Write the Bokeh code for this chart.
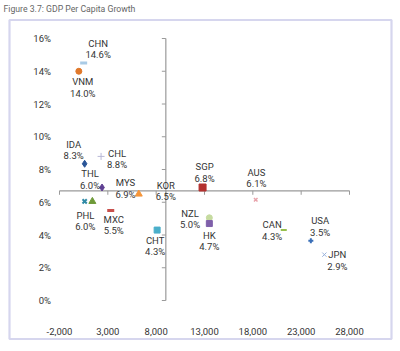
from bokeh.plotting import figure
from bokeh.models import ColumnDataSource, Range1d
from bokeh.core.properties import value
from bokeh.embed import file_html
from bokeh.resources import INLINE

# ---------------- data ----------------
countries = ["CHN", "VNM", "IDA", "CHL", "THL", "MYS", "KOR", "PHL", "", "MXC",
             "CHT", "SGP", "NZL", "HK", "AUS", "CAN", "USA", "JPN"]
gdp_per_capita = [500, 0, 600, 2300, 2400, 6200, 9000, 600, 1400, 3300,
                  8100, 12800, 13500, 13500, 18300, 21200, 24000, 25400]
growth = [14.5, 14.0, 8.35, 8.8, 6.9, 6.5, 6.5, 6.05, 6.05, 5.5,
          4.3, 6.9, 5.05, 4.7, 6.15, 4.3, 3.65, 2.8]
value_labels = ["14.6%", "14.0%", "8.3%", "8.8%", "6.0%", "6.9%", "6.5%", "6.0%", "", "5.5%",
                "4.3%", "6.8%", "5.0%", "4.7%", "6.1%", "4.3%", "3.5%", "2.9%"]
x_ticks = [-2000, 3000, 8000, 13000, 18000, 23000, 28000]
x_tick_labels = ["-2,000", "3,000", "8,000", "13,000", "18,000", "23,000", "28,000"]
y_ticks = [0, 2, 4, 6, 8, 10, 12, 14, 16]
y_tick_labels = ["0%", "2%", "4%", "6%", "8%", "10%", "12%", "14%", "16%"]
x_cross = 9000   # vertical axis crosses here
y_cross = 6.7    # horizontal axis crosses here
title = "Figure 3.7: GDP Per Capita Growth"

# ---------------- styles ----------------
markers = ["dash", "circle", "diamond", "cross", "diamond", "triangle", "dash", "x", "triangle", "dash",
           "square", "square", "circle", "square", "x", "dash", "cross", "x"]
colors = ["#a9cbe6", "#e0782a", "#2a5597", "#b8b8d6", "#5f3f92", "#f5953a", "#9e9e9e", "#2f8aa6",
          "#6e9a38", "#c8504c", "#4aafca", "#b3302e", "#c6dba0", "#7f60aa", "#e8a2aa", "#96c04e",
          "#3a6fb8", "#9ab3dc"]
sizes = [7, 6, 7, 7, 7, 7, 6, 6, 7, 7, 6, 7, 6, 6, 5, 6, 5, 6]
lwidths = [3, 1, 1, 1, 1, 1, 1, 2, 1, 3, 1, 1, 1, 1, 1.5, 2, 2, 1]
angles = [0, 0, 0, 0, 0, 0, 1.5708, 0, 0, 0, 0, 0, 0, 0, 0, 0, 0, 0]
# label offsets (pixels) of the name line's center relative to the marker
dx = [14.5, 4, -11, 16, -12, -13.3, 0, 0.7, 0, 3, -2, 2, -19.3, 0, 0.7, -11.6, 9.3, 13]
dy = [-20, 10.7, -19.7, -3.3, -13.7, -11.3, -9, 14, 0, 9, 10.3, -21, -4.4, 11.7, -27.6, -5.4, -20, 0]
line_gap = 11.5

FONT = "Roboto"
TXT = "#353535"
AXIS = "#9a9a9a"

# ---------------- canvas / scales ----------------
W, H = 400, 351
PX_L, PX_R = 59, 349      # pixel columns of x = -2000 and 28000
PX_T, PX_B = 38, 300      # pixel rows of y = 16% and 0%
ux = (x_ticks[-1] - x_ticks[0]) / (PX_R - PX_L)
uy = (y_ticks[-1] - y_ticks[0]) / (PX_B - PX_T)
x0 = x_ticks[0] - PX_L * ux
y1 = y_ticks[-1] + PX_T * uy

def px_x(px):
    return x0 + px * ux

def px_y(py):
    return y1 - py * uy

p = figure(width=W, height=H, output_backend="svg", toolbar_location=None,
           x_range=Range1d(px_x(0), px_x(W)), y_range=Range1d(px_y(H), px_y(0)),
           x_axis_type=None, y_axis_type=None, min_border=0)
p.background_fill_color = "white"
p.border_fill_color = "white"
p.outline_line_color = None
p.grid.visible = False

# outer frame and title
p.quad(left=[px_x(9)], right=[px_x(391)], top=[px_y(19.5)], bottom=[px_y(338.5)],
       fill_color=None, line_color="#d6d6ee", line_width=2.2)
p.text(x=[px_x(3)], y=[px_y(8.5)], text=[title], text_font=value(FONT), text_font_size="8.7px",
       text_color="#666666", text_align="left", text_baseline="middle")

# crossing axes
tick_px = 4
p.segment(x0=[x_ticks[0]], y0=[y_cross], x1=[x_ticks[-1]], y1=[y_cross], line_color=AXIS, line_width=1.2)
p.segment(x0=[x_cross], y0=[y_ticks[0]], x1=[x_cross], y1=[y_ticks[-1]], line_color=AXIS, line_width=1.2)
p.segment(x0=x_ticks, y0=[y_cross] * len(x_ticks), x1=x_ticks,
          y1=[y_cross - tick_px * uy] * len(x_ticks), line_color=AXIS, line_width=1)
p.segment(x0=[x_cross - tick_px * ux] * len(y_ticks), y0=y_ticks, x1=[x_cross] * len(y_ticks),
          y1=y_ticks, line_color=AXIS, line_width=1)

# tick labels (low position, outside the data area)
p.text(x=x_ticks, y=[px_y(330.5)] * len(x_ticks), text=x_tick_labels, text_font=value(FONT),
       text_font_size="9.5px", text_color=TXT, text_align="center", text_baseline="middle")
p.text(x=[px_x(50.5)] * len(y_ticks), y=y_ticks, text=y_tick_labels, text_font=value(FONT),
       text_font_size="9.5px", text_color=TXT, text_align="right", text_baseline="middle")

# points and labels
src = ColumnDataSource(dict(x=gdp_per_capita, y=growth, name=countries, val=value_labels,
                            marker=markers, color=colors, size=sizes, lw=lwidths, angle=angles,
                            dx=dx, dy=dy, dy2=[d + line_gap for d in dy]))
p.scatter(x="x", y="y", marker="marker", size="size", fill_color="color", line_color="color",
          line_width="lw", angle="angle", source=src)
p.text(x="x", y="y", text="name", x_offset="dx", y_offset="dy", source=src,
       text_font=value(FONT), text_font_size="9.5px", text_color=TXT,
       text_align="center", text_baseline="middle")
p.text(x="x", y="y", text="val", x_offset="dx", y_offset="dy2", source=src,
       text_font=value(FONT), text_font_size="9.5px", text_color=TXT,
       text_align="center", text_baseline="middle")

open("out.html", "w").write(file_html(p, INLINE))
